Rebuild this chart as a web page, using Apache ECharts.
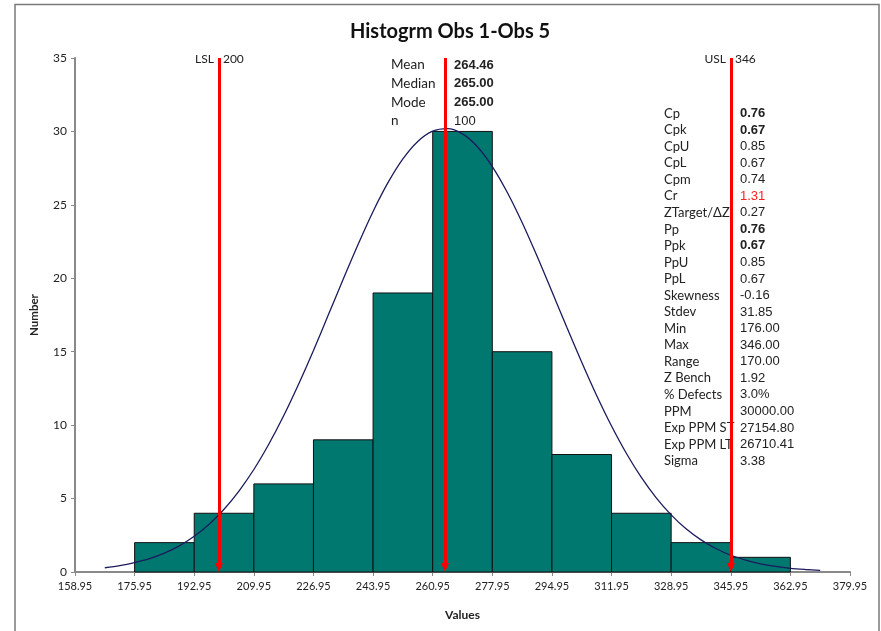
<!DOCTYPE html>
<html lang="en">
<head>
<meta charset="UTF-8">
<title>Histogram</title>
<style>
  html, body { margin: 0; padding: 0; background: #fff; }
  #main { width: 881px; height: 631px; }
</style>
</head>
<body>
<div id="main"></div>
<script src="https://cdn.jsdelivr.net/npm/echarts@6/dist/echarts.min.js"></script>
<script>
  // histogram bins (edges) and counts
  var binEdges = [175.95, 192.95, 209.95, 226.95, 243.95, 260.95, 277.95, 294.95, 311.95, 328.95, 345.95, 362.95];
  var counts = [2, 4, 6, 9, 19, 30, 15, 8, 4, 2, 1];

  // fitted curve
  var curveX = [167.45, 171.7, 175.95, 180.2, 184.45, 188.7, 192.95, 197.2, 201.45, 205.7, 209.95, 214.2, 218.45,
                222.7, 226.95, 231.2, 235.45, 239.7, 243.95, 248.2, 252.45, 256.7, 260.95, 265.2, 269.45, 273.7,
                277.95, 282.2, 286.45, 290.7, 294.95, 299.2, 303.45, 307.7, 311.95, 316.2, 320.45, 324.7, 328.95,
                333.2, 337.45, 341.7, 345.95, 350.2, 354.45, 358.7, 362.95, 367.2, 371.45];
  var curveY = [0.29, 0.43, 0.64, 0.91, 1.29, 1.78, 2.43, 3.25, 4.27, 5.51, 6.98, 8.7, 10.64,
                12.79, 15.09, 17.51, 19.95, 22.32, 24.55, 26.51, 28.13, 29.32, 30.02, 30.19, 29.83, 28.96,
                27.61, 25.86, 23.8, 21.51, 19.1, 16.66, 14.28, 12.02, 9.94, 8.07, 6.44, 5.05, 3.89,
                2.94, 2.19, 1.6, 1.14, 0.81, 0.56, 0.38, 0.25, 0.17, 0.11];

  // spec limits and mean
  var lsl = 200, usl = 346, mean = 264.46;

  var topLabels = ['Mean', 'Median', 'Mode', 'n'];
  var topValues = ['264.46', '265.00', '265.00', '100'];
  var topBold = [true, true, true, false];

  var statLabels = ['Cp', 'Cpk', 'CpU', 'CpL', 'Cpm', 'Cr', 'ZTarget/\u0394Z', 'Pp', 'Ppk', 'PpU', 'PpL', 'Skewness', 'Stdev',
                    'Min', 'Max', 'Range', 'Z Bench', '% Defects', 'PPM', 'Exp PPM ST', 'Exp PPM LT', 'Sigma'];
  var statValues = ['0.76', '0.67', '0.85', '0.67', '0.74', '1.31', '0.27', '0.76', '0.67', '0.85', '0.67', '-0.16', '31.85',
                    '176.00', '346.00', '170.00', '1.92', '3.0%', '30000.00', '27154.80', '26710.41', '3.38'];
  var statBold = ['Cp', 'Cpk', 'Pp', 'Ppk'];

  var bins = counts.map(function (c, i) { return [binEdges[i], binEdges[i + 1], c]; });
  var curve = curveX.map(function (x, i) { return [x, curveY[i]]; });

  var calibri = 'Lato, "Open Sans", sans-serif';
  var arial = '"Liberation Sans", Arial, sans-serif';

  var myChart = echarts.init(document.getElementById('main'));
  var option = {
    animation: false,
    title: {
      text: 'Histogrm Obs 1-Obs 5',
      left: 345,
      top: 17,
      textStyle: { fontFamily: calibri, fontSize: 20, fontWeight: 'bold', color: '#111' }
    },
    grid: { left: 75, right: 31, top: 58, bottom: 59 },
    xAxis: {
      type: 'value',
      min: 158.95,
      max: 379.95,
      interval: 17,
      name: 'Values',
      nameLocation: 'middle',
      nameGap: 37,
      nameTextStyle: { fontFamily: calibri, fontSize: 12, fontWeight: 'bold', color: '#222' },
      axisLine: { lineStyle: { color: '#898989', width: 2 } },
      axisTick: { show: true, length: 4, lineStyle: { color: '#898989' } },
      axisLabel: {
        fontFamily: calibri, fontSize: 11, color: '#222', margin: 9,
        formatter: function (v) { return v.toFixed(2); }
      },
      splitLine: { show: false }
    },
    yAxis: {
      type: 'value',
      min: 0,
      max: 35,
      interval: 5,
      name: 'Number',
      nameLocation: 'middle',
      nameGap: 35,
      nameTextStyle: { fontFamily: calibri, fontSize: 11.5, fontWeight: 'bold', color: '#222' },
      axisLine: { show: true, lineStyle: { color: '#898989', width: 2 } },
      axisTick: { show: true, length: 4, lineStyle: { color: '#898989' } },
      axisLabel: { fontFamily: calibri, fontSize: 12, color: '#222', margin: 8 },
      splitLine: { show: false }
    },
    series: [
      {
        type: 'custom',
        data: bins,
        encode: { x: [0, 1], y: 2 },
        renderItem: function (params, api) {
          var p0 = api.coord([api.value(0), api.value(2)]);
          var p1 = api.coord([api.value(1), 0]);
          return {
            type: 'rect',
            shape: { x: p0[0], y: p0[1], width: p1[0] - p0[0], height: p1[1] - p0[1] },
            style: { fill: '#00786F', stroke: '#111', lineWidth: 1 }
          };
        }
      },
      {
        type: 'line',
        data: curve,
        smooth: 0.3,
        showSymbol: false,
        lineStyle: { color: '#1b1b5e', width: 1.3 },
        z: 3
      },
      {
        type: 'line',
        data: [],
        z: 4,
        markLine: {
          silent: true,
          symbol: ['none', 'triangle'],
          symbolSize: [8, 9],
          label: { show: false },
          lineStyle: { color: '#ff0000', width: 3, type: 'solid' },
          data: [
            [{ coord: [lsl, 35] }, { coord: [lsl, 0.3] }],
            [{ coord: [mean, 35] }, { coord: [mean, 0.3] }],
            [{ coord: [usl, 35] }, { coord: [usl, 0.3] }]
          ]
        }
      }
    ]
  };
  myChart.setOption(option);

  // text annotations
  var g = [];
  g.push({
    type: 'rect', silent: true,
    shape: { x: 15, y: 4.5, width: 864, height: 700 },
    style: { fill: 'none', stroke: '#7a7a7a', lineWidth: 1.5 }
  });
  var pL = myChart.convertToPixel({ gridIndex: 0 }, [lsl, 35]);
  var pU = myChart.convertToPixel({ gridIndex: 0 }, [usl, 35]);
  [[pL, 'LSL', String(lsl)], [pU, 'USL', String(usl)]].forEach(function (d) {
    g.push({ type: 'text', x: d[0][0] - 5, y: d[0][1] + 1, style: { text: d[1], font: '12px ' + calibri, fill: '#222', align: 'right', verticalAlign: 'middle' } });
    g.push({ type: 'text', x: d[0][0] + 4, y: d[0][1] + 1, style: { text: d[2], font: '12px ' + calibri, fill: '#222', align: 'left', verticalAlign: 'middle' } });
  });
  topLabels.forEach(function (t, i) {
    var y = 65 + i * 18.7;
    g.push({ type: 'text', x: 391, y: y, style: { text: t, font: '13.5px ' + calibri, fill: '#222', verticalAlign: 'middle' } });
    g.push({ type: 'text', x: 454, y: y, style: { text: topValues[i], font: (topBold[i] ? 'bold ' : '') + '13px ' + arial, fill: '#222', verticalAlign: 'middle' } });
  });
  statLabels.forEach(function (t, i) {
    var y = 113.5 + i * 16.55;
    var bold = statBold.indexOf(t) >= 0;
    g.push({ type: 'text', x: 664, y: y, style: { text: t, font: '13px ' + calibri, fill: '#222', verticalAlign: 'middle' } });
    g.push({ type: 'text', x: 740, y: y, style: { text: statValues[i], font: (bold ? 'bold ' : '') + '13px ' + arial, fill: t === 'Cr' ? '#ff2020' : '#222', verticalAlign: 'middle' } });
  });
  myChart.setOption({ graphic: g });

  window.addEventListener('resize', function () { myChart.resize(); });
</script>
</body>
</html>
